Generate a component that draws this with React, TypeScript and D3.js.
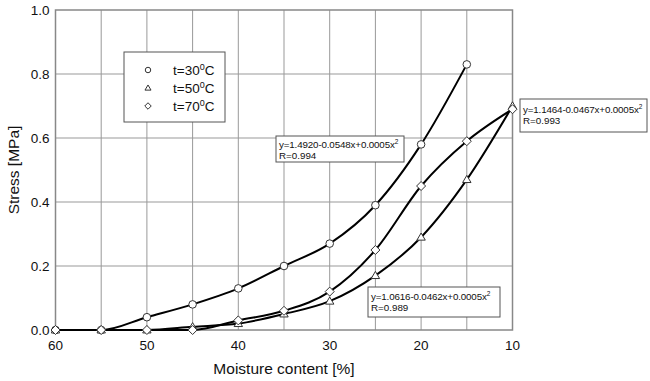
import React from "react";
import * as d3 from "d3";

const moisture = [60, 55, 50, 45, 40, 35, 30, 25, 20, 15, 10];
const stress30 = [0, 0, 0.04, 0.08, 0.13, 0.2, 0.27, 0.39, 0.58, 0.83];
const stress50 = [0, 0, 0, 0.01, 0.02, 0.05, 0.09, 0.17, 0.29, 0.47, 0.7];
const stress70 = [0, 0, 0, 0, 0.03, 0.06, 0.12, 0.25, 0.45, 0.59, 0.69];
const xTicks = [60, 50, 40, 30, 20, 10];
const xGrid = [55, 50, 45, 40, 35, 30, 25, 20, 15];
const yTicks = [0, 0.2, 0.4, 0.6, 0.8, 1.0];
const legendLabels = ["30", "50", "70"];
const eqs = [
  { a: "y=1.4920-0.0548x+0.0005x", r: "R=0.994" },
  { a: "y=1.1464-0.0467x+0.0005x", r: "R=0.993" },
  { a: "y=1.0616-0.0462x+0.0005x", r: "R=0.989" },
];

const W = 650, H = 381;
const L = 55.5, R = 512.5, T = 10, B = 330;

export default function App() {
  const x = d3.scaleLinear().domain([60, 10]).range([L, R]);
  const y = d3.scaleLinear().domain([0, 1]).range([B, T]);
  const line = d3
    .line<[number, number]>()
    .x((d) => x(d[0]))
    .y((d) => y(d[1]))
    .curve(d3.curveMonotoneX);
  const series = [stress30, stress50, stress70].map((s) =>
    s.map((v, i) => [moisture[i], v] as [number, number])
  );
  const font = "Arial, 'Liberation Sans', Helvetica, sans-serif";
  const sym = (k: number, cx: number, cy: number, key: string, sc = 1) => {
    const st = { fill: "#fff", stroke: "#333", strokeWidth: 1 };
    if (k === 0) return <circle key={key} cx={cx} cy={cy} r={3.8 * sc} {...st} />;
    if (k === 1) {
      const s = 4.2 * sc;
      return (
        <path key={key} d={`M${cx},${cy - s}L${cx + s},${cy + s * 0.7}L${cx - s},${cy + s * 0.7}Z`} {...st} />
      );
    }
    const s = 4.5 * sc;
    return <path key={key} d={`M${cx},${cy - s}L${cx + s},${cy}L${cx},${cy + s}L${cx - s},${cy}Z`} {...st} />;
  };
  const eqBoxes = [
    { x: 276, y: 136, w: 128, h: 26, l1: 11.5 },
    { x: 520, y: 99, w: 127, h: 33, l1: 14 },
    { x: 368, y: 287, w: 132, h: 30, l1: 13 },
  ];
  return (
    <svg width={W} height={H} style={{ position: "absolute", left: 0, top: 0, background: "#fff" }} fontFamily={font}>
      <rect x={0} y={0} width={W} height={H} fill="#fff" />
      {xGrid.map((g) => (
        <line key={"vx" + g} x1={x(g)} x2={x(g)} y1={T} y2={B} stroke="#999" strokeWidth={1} />
      ))}
      {yTicks.slice(1, -1).map((g) => (
        <line key={"hy" + g} x1={L} x2={R} y1={y(g)} y2={y(g)} stroke="#999" strokeWidth={1} />
      ))}
      <rect x={L} y={T} width={R - L} height={B - T} fill="none" stroke="#888" strokeWidth={1.5} />
      {yTicks.map((t) => (
        <text key={"yt" + t} x={L - 6} y={y(t) + 5} fontSize={13.5} textAnchor="end" fill="#111">
          {t.toFixed(1)}
        </text>
      ))}
      {xTicks.map((t) => (
        <text key={"xt" + t} x={x(t)} y={B + 20} fontSize={13.5} textAnchor="middle" fill="#111">
          {t}
        </text>
      ))}
      <text x={284} y={374} fontSize={15.5} textAnchor="middle" fill="#111">
        Moisture content [%]
      </text>
      <text transform={`translate(19,${(T + B) / 2}) rotate(-90)`} fontSize={15.5} textAnchor="middle" fill="#111">
        Stress [MPa]
      </text>
      {series.map((s, k) => (
        <path key={"l" + k} d={line(s) || ""} fill="none" stroke="#000" strokeWidth={2} />
      ))}
      {series.map((s, k) => s.map((d, i) => sym(k, x(d[0]), y(d[1]), `m${k}-${i}`)))}
      <rect x={124} y={52} width={101} height={70} fill="#fff" stroke="#555" strokeWidth={1} />
      {legendLabels.map((lb, k) => (
        <g key={"lg" + k}>
          {sym(k, 148, 70 + k * 18, "ls" + k, 0.72)}
          <text x={173} y={75 + k * 18} fontSize={13.5} fill="#111">
            t={lb}
            <tspan fontSize={9} dy={-5}>0</tspan>
            <tspan dy={5}>C</tspan>
          </text>
        </g>
      ))}
      {eqs.map((e, k) => {
        const b = eqBoxes[k];
        return (
          <g key={"eq" + k}>
            <rect x={b.x} y={b.y} width={b.w} height={b.h} fill="#fff" stroke="#555" strokeWidth={1} />
            <text x={b.x + 3} y={b.y + b.l1} fontSize={9.8} fill="#111" letterSpacing={-0.15}>
              {e.a}
              <tspan fontSize={6.5} dy={-4}>2</tspan>
            </text>
            <text x={b.x + 3} y={b.y + b.l1 + 11} fontSize={9.8} fill="#111">
              {e.r}
            </text>
          </g>
        );
      })}
    </svg>
  );
}
